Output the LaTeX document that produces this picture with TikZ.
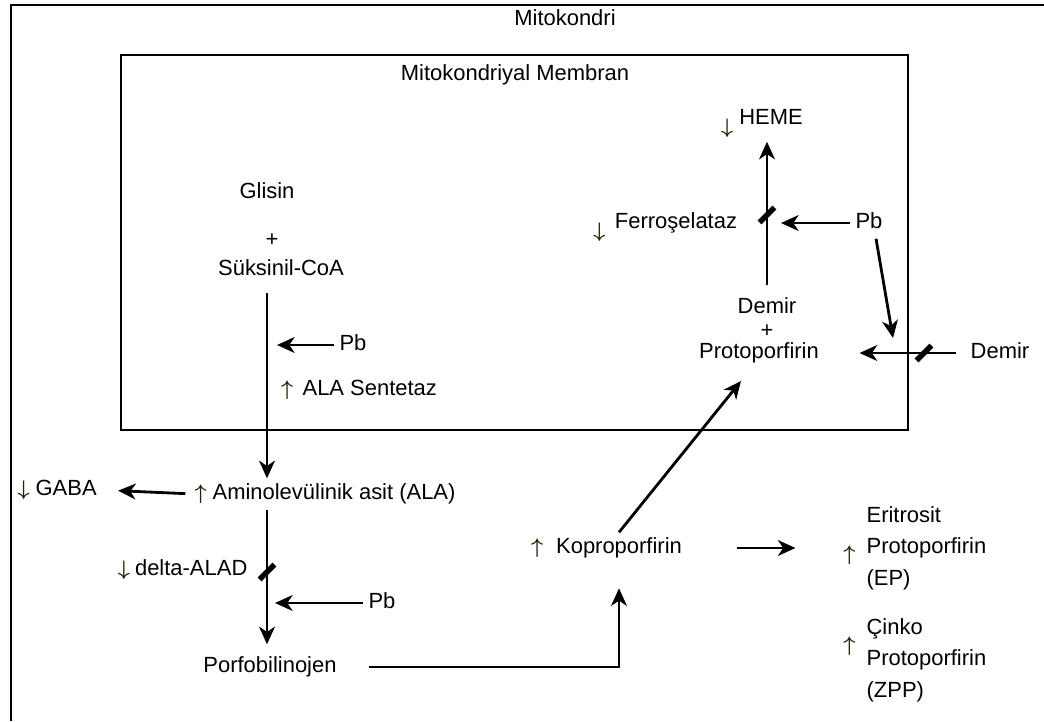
\documentclass[tikz,border=0pt]{standalone}
\usepackage{fontspec}
\setmainfont{Liberation Sans}
\usepackage{tikz}
\usetikzlibrary{arrows.meta,positioning}
\definecolor{inkarrow}{RGB}{40,32,5}
\newcommand{\artis}{{\boldmath$\uparrow$}}
\newcommand{\azalis}{{\boldmath$\downarrow$}}

\begin{document}
\begin{tikzpicture}[
  x=0.02cm, y=-0.02cm,
  every node/.style={font=\fontsize{12.5}{15}\selectfont},
  lbl/.style={inner sep=3pt, text height=9pt, text depth=2.5pt},
  sign/.style={inner sep=0pt, text=inkarrow, font=\fontsize{13}{14}\selectfont},
  stack/.style={inner sep=3pt, align=left, font=\fontsize{12.5}{18}\selectfont},
  flow/.style={-{Stealth[length=10pt,width=9pt,inset=3pt]}, line width=1.6pt},
  wall/.style={line width=1.3pt},
  blocker/.style={fill=black, inner sep=0pt, minimum width=0.42cm,
    minimum height=0.11cm, rotate=45}
]
\useasboundingbox (0,0) rectangle (1044,721);

% Hücre ve zar
\draw[wall] (11,721) -- (11,5) -- (1044,5);
\draw[wall] (121,55) rectangle (908,430);
\node[lbl] (mito) at (565,20) {Mitokondri};
\node[lbl] (membran) at (515,75) {Mitokondriyal Membran};

% Sol sütun
\node[lbl] (glisin) at (267,193) {Glisin};
\node[lbl] (plusA) at (272,241) {+};
\node[lbl] (suksinil) at (281,270) {Süksinil-CoA};
\node[lbl] (pbA) at (353,345) {Pb};
\coordinate (hitA) at (277,345);
\node[lbl, anchor=west] (alasen) at (297,390) {ALA Sentetaz};
\node[sign, left=2pt of alasen] (upS) {\artis};

\node[lbl, anchor=west] (ala) at (207,494) {Aminolevülinik asit (ALA)};
\node[sign, left=0pt of ala] (upA) {\artis};
\node[lbl, anchor=west] (gaba) at (30,490) {GABA};
\node[sign, left=0pt of gaba] (downG) {\azalis};

\node[lbl, anchor=east] (alad) at (253,570) {delta-ALAD};
\node[sign, left=-0.5pt of alad] (downD) {\azalis};
\node[blocker] (barA) at (267,572) {};
\node[lbl] (pbB) at (382,603) {Pb};
\coordinate (hitB) at (275,603);
\node[lbl] (pbg) at (270,667) {Porfobilinojen};

% Orta ve sağ
\node[lbl] (kopro) at (619,548) {Koproporfirin};
\node[sign, left=4pt of kopro] (upK) {\artis};

\node[stack, anchor=west] (ep) at (861,548) {Eritrosit\\Protoporfirin\\(EP)};
\node[sign, left=3pt of ep, yshift=-4pt] (upE) {\artis};
\node[stack, anchor=west] (zpp) at (861,660) {Çinko\\Protoporfirin\\(ZPP)};
\node[sign, left=3pt of zpp, yshift=8pt] (upZ) {\artis};

\node[lbl] (demir) at (767,308) {Demir};
\node[lbl] (plusB) at (767,332) {+};
\node[lbl] (proto) at (759,353) {Protoporfirin};
\coordinate (ppIn) at (741,381);

\node[lbl] (heme) at (771,119) {HEME};
\node[sign, left=0pt of heme, yshift=-5pt] (downH) {\azalis};
\node[lbl] (ferro) at (676,223) {Ferroşelataz};
\node[sign, left=2pt of ferro, yshift=-5pt] (downF) {\azalis};
\node[blocker] (barB) at (767,215) {};
\node[lbl] (pbC) at (869,223) {Pb};
\coordinate (hitC) at (781,223);
\coordinate (hitD) at (893,338);

\node[lbl] (demirR) at (1000,353) {Demir};
\node[blocker] (barC) at (924,353) {};

% Oklar
\draw[flow, shorten <=4pt] (suksinil.south -| glisin) -- (ala.north -| glisin);
\draw[flow] (pbA.west) -- (hitA);
\draw[flow, shorten <=5pt, shorten >=9pt] (upA.west) -- (gaba.east);
\draw[flow, shorten >=4pt] (ala.south -| glisin) -- (pbg.north -| glisin);
\draw[flow] (pbB.west) -- (hitB);
\draw[flow, shorten <=15pt, shorten >=14pt] (pbg.east) -| (kopro.south);
\draw[flow] (kopro.north) -- (ppIn);
\draw[flow, shorten <=28pt, shorten >=27pt] (kopro.east) -- (kopro.east -| upE.west);
\draw[flow, shorten <=4pt, shorten >=4pt] (demir.north) -- (demir.north |- heme.south);
\draw[flow] (pbC.west) -- (hitC);
\draw[flow] ([xshift=4pt]pbC.south) -- (hitD);
\draw[flow, shorten <=5pt, shorten >=20pt] (demirR.west) -- (proto.east);

\end{tikzpicture}
\end{document}
